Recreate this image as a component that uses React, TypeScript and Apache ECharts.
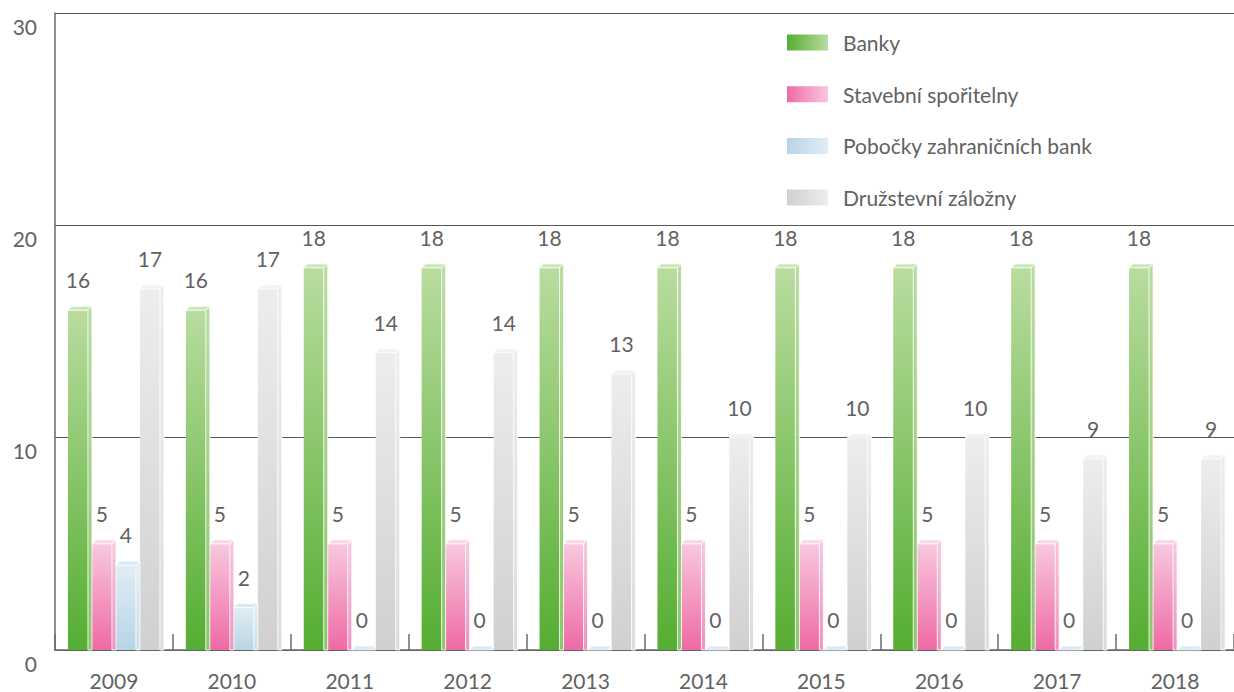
import React, { useEffect, useRef } from "react";
import * as echarts from "echarts";

const years = ["2009", "2010", "2011", "2012", "2013", "2014", "2015", "2016", "2017", "2018"];
const seriesNames = ["Banky", "Stavební spořitelny", "Pobočky zahraničních bank", "Družstevní záložny"];
const banky = [16, 16, 18, 18, 18, 18, 18, 18, 18, 18];
const stavebni = [5, 5, 5, 5, 5, 5, 5, 5, 5, 5];
const pobocky = [4, 2, 0, 0, 0, 0, 0, 0, 0, 0];
const druzstevni = [17, 17, 14, 14, 13, 10, 10, 10, 9, 9];
const yTicks = [0, 10, 20, 30];

const palettes = [
  { dark: "#55ad32", light: "#b9dc9f", side: "#8cc66b", top: "#cbe6b6" },
  { dark: "#ee6aa5", light: "#f8c8df", side: "#f092bd", top: "#fad5e7" },
  { dark: "#b8d4e5", light: "#e0edf5", side: "#c9dfec", top: "#d9e9f3" },
  { dark: "#d0d0d0", light: "#ededed", side: "#dcdcdc", top: "#f2f2f2" },
];

const BAR_W = 20;
const BAR_STEP = 24;
const DEPTH = 4;
const TEXT = "#626262";
const FONT = "Lato, 'Open Sans', sans-serif";
const FW = 400;

export default function App() {
  const ref = useRef<HTMLDivElement>(null);
  useEffect(() => {
    if (!ref.current) return;
    const chart = echarts.init(ref.current, null, { renderer: "svg" });
    const all = [banky, stavebni, pobocky, druzstevni];

    const vGrad = (p: any) =>
      new echarts.graphic.LinearGradient(0, 0, 0, 1, [
        { offset: 0, color: p.light },
        { offset: 1, color: p.dark },
      ]);
    const hGrad = (p: any) =>
      new echarts.graphic.LinearGradient(0, 0, 1, 0, [
        { offset: 0, color: p.dark },
        { offset: 1, color: p.light },
      ]);

    const barSeries = all.map((vals, s) => ({
      type: "bar",
      name: seriesNames[s],
      data: vals,
      barWidth: BAR_W,
      barGap: "20%",
      itemStyle: { color: vGrad(palettes[s]) },
      label: {
        show: true,
        position: "top",
        distance: 20,
        color: TEXT,
        fontSize: 21,
        fontWeight: FW,
        fontFamily: FONT,
      },
      z: 3,
    }));

    const deco = all.map((vals, s) => ({
      type: "custom",
      name: seriesNames[s] + " 3d",
      data: vals.map((v, i) => [i, v]),
      z: 4,
      renderItem: (params: any, api: any) => {
        const cat = api.value(0);
        const v = api.value(1);
        const top = api.coord([cat, v]);
        const base = api.coord([cat, 0]);
        const left = top[0] - (4 * BAR_W + 3 * (BAR_STEP - BAR_W)) / 2 + s * BAR_STEP;
        const right = left + BAR_W;
        const p = palettes[s];
        return {
          type: "group",
          children: [
            {
              type: "polygon",
              shape: {
                points: [
                  [right, top[1]],
                  [right + DEPTH, top[1] - DEPTH],
                  [right + DEPTH, base[1]],
                  [right, base[1]],
                ],
              },
              style: {
                fill: new echarts.graphic.LinearGradient(0, 0, 0, 1, [
                  { offset: 0, color: p.light },
                  { offset: 1, color: p.side },
                ]),
                stroke: "#ffffff",
                lineWidth: 0.8,
              },
            },
            {
              type: "polygon",
              shape: {
                points: [
                  [left, top[1]],
                  [left + DEPTH, top[1] - DEPTH],
                  [right + DEPTH, top[1] - DEPTH],
                  [right, top[1]],
                ],
              },
              style: { fill: p.top, stroke: "#ffffff", lineWidth: 0.8 },
            },
          ],
        };
      },
    }));

    chart.setOption({
      animation: false,
      grid: { left: 55, right: -6, top: 13, bottom: 42, containLabel: false },
      legend: {
        orient: "vertical",
        left: 787,
        top: 32,
        padding: 0,
        itemWidth: 41,
        itemHeight: 16,
        itemGap: 30.7,
        icon: "rect",
        selectedMode: false,
        textStyle: {
          color: TEXT,
          fontSize: 21,
          fontWeight: FW,
          fontFamily: FONT,
          lineHeight: 20,
          padding: [0, 0, 0, 10],
        },
        data: seriesNames.map((n, s) => ({ name: n, itemStyle: { color: hGrad(palettes[s]) } })),
      },
      xAxis: {
        type: "category",
        data: years,
        boundaryGap: true,
        axisLine: { show: true, lineStyle: { color: "#6b6b6b", width: 1.5 } },
        axisTick: { show: true, inside: true, length: 16, lineStyle: { color: "#6b6b6b", width: 1.5 } },
        axisLabel: {
          color: TEXT,
          fontSize: 21,
          fontWeight: FW,
          fontFamily: FONT,
          margin: 21,
          lineHeight: 18,
          verticalAlign: "top",
        },
      },
      yAxis: {
        type: "value",
        min: yTicks[0],
        max: yTicks[yTicks.length - 1],
        interval: 10,
        axisLine: { show: true, lineStyle: { color: "#6b6b6b", width: 1.5 } },
        axisTick: { show: false },
        splitLine: { show: true, lineStyle: { color: "#555555", width: 1 } },
        axisLabel: {
          color: TEXT,
          fontSize: 21,
          fontWeight: FW,
          fontFamily: FONT,
          margin: 18,
          verticalAlign: "top",
          lineHeight: 22,
          padding: [2, 0, 0, 0],
        },
      },
      series: [...barSeries, ...deco],
    });
    return () => chart.dispose();
  }, []);

  return (
    <div
      ref={ref}
      style={{ position: "fixed", left: 0, top: 0, width: 1234, height: 692, background: "#ffffff" }}
    />
  );
}
